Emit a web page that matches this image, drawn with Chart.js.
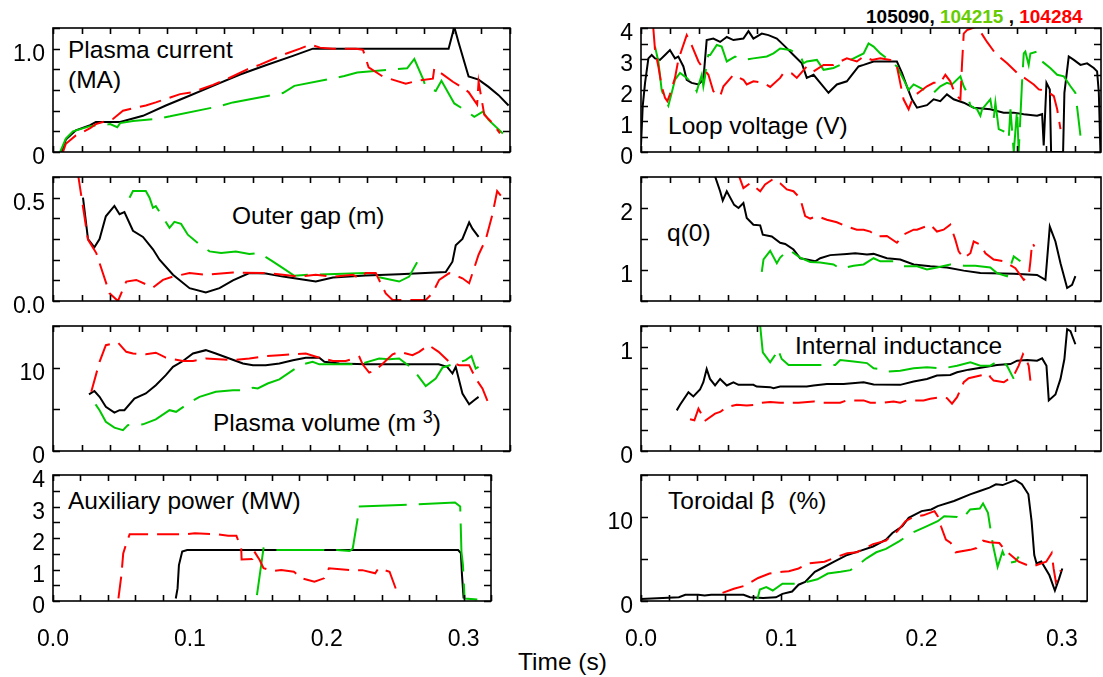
<!DOCTYPE html>
<html>
<head>
<meta charset="utf-8">
<script src="https://cdn.jsdelivr.net/npm/chart.js@4"></script>
<style>
  body { margin: 0; width: 1103px; height: 677px; overflow: hidden; background: #fff; position: relative;
         font-family: "Liberation Sans", Arial, sans-serif; }
  .lbl { position: absolute; font-size: 24.5px; line-height: 24.5px; color: #000; white-space: nowrap; }
  .legend { position: absolute; left: 866px; top: 7px; font-size: 19px; line-height: 19px; font-weight: bold; white-space: nowrap; }
</style>
</head>
<body>
<div class="legend"><span style="color:#000">105090,</span> <span style="color:#66cc00">104215</span> , <span style="color:#ff0000">104284</span></div>
<div class="lbl" style="left:68px;top:38px">Plasma current</div>
<div class="lbl" style="left:68px;top:68px">(MA)</div>
<div class="lbl" style="left:232px;top:204px">Outer gap (m)</div>
<div class="lbl" style="left:213px;top:411px">Plasma volume (m <span style="position:relative;top:-8px;font-size:18px">3</span>)</div>
<div class="lbl" style="left:68px;top:489px">Auxiliary power (MW)</div>
<div class="lbl" style="left:668px;top:114px">Loop voltage (V)</div>
<div class="lbl" style="left:667px;top:221px">q(0)</div>
<div class="lbl" style="left:795px;top:334px">Internal inductance</div>
<div class="lbl" style="left:668px;top:489px">Toroidal β&nbsp; (%)</div>
<div class="lbl" style="left:518px;top:650px">Time (s)</div>

<script>
// ---- data (time in s) ----
// Plasma current (MA)
const ipBlackT = [0.006, 0.009, 0.016, 0.026, 0.030, 0.047, 0.063, 0.079, 0.093, 0.112, 0.131, 0.149, 0.168, 0.182, 0.196, 0.219, 0.242, 0.262, 0.277, 0.281, 0.284, 0.291, 0.298, 0.305, 0.312, 0.319];
const ipBlackV = [0, 0.12, 0.21, 0.26, 0.29, 0.29, 0.35, 0.45, 0.53, 0.64, 0.75, 0.84, 0.93, 1.0, 1.0, 1.0, 1.0, 1.0, 1.0, 1.21, 1.06, 0.73, 0.70, 0.63, 0.55, 0.45];
const ipGreenT = [0.005, 0.009, 0.014, 0.026, 0.040, 0.045, 0.047, 0.056, 0.072, 0.082, 0.117, 0.126, 0.161, 0.169, 0.204, 0.213, 0.248, 0.253, 0.259, 0.261, 0.268, 0.272, 0.281, 0.289, 0.295, 0.301, 0.305, 0.315];
const ipGreenV = [0, 0.13, 0.20, 0.25, 0.27, 0.24, 0.28, 0.30, 0.32, 0.345, 0.445, 0.48, 0.57, 0.64, 0.735, 0.77, 0.81, 0.90, 0.71, 0.63, 0.59, 0.69, 0.47, 0.40, 0.34, 0.39, 0.31, 0.18];
const ipRedT = [0.007, 0.009, 0.016, 0.026, 0.030, 0.042, 0.049, 0.065, 0.072, 0.089, 0.098, 0.112, 0.121, 0.136, 0.145, 0.161, 0.173, 0.180, 0.187, 0.196, 0.212, 0.217, 0.221, 0.231, 0.247, 0.255, 0.266, 0.267, 0.270, 0.280, 0.286, 0.291, 0.297, 0.298, 0.302, 0.307, 0.313];
const ipRedV = [0, 0.08, 0.16, 0.23, 0.27, 0.32, 0.40, 0.45, 0.48, 0.56, 0.58, 0.65, 0.70, 0.80, 0.845, 0.94, 1.0, 1.04, 1.01, 1.0, 1.0, 0.99, 0.82, 0.73, 0.66, 0.69, 0.71, 0.81, 0.78, 0.68, 0.63, 0.58, 0.46, 0.68, 0.36, 0.29, 0.18];

// Outer gap (m)
const gapBlackT = [0.021, 0.0245, 0.029, 0.0326, 0.037, 0.043, 0.0466, 0.050, 0.056, 0.063, 0.070, 0.0746, 0.084, 0.0956, 0.107, 0.1166, 0.126, 0.1375, 0.149, 0.161, 0.1725, 0.184, 0.196, 0.219, 0.2424, 0.275, 0.2797, 0.282, 0.2867, 0.2914, 0.2937, 0.298];
const gapBlackV = [0.50, 0.30, 0.26, 0.30, 0.41, 0.46, 0.42, 0.43, 0.34, 0.31, 0.25, 0.20, 0.127, 0.062, 0.041, 0.062, 0.10, 0.135, 0.133, 0.118, 0.106, 0.094, 0.114, 0.123, 0.13, 0.14, 0.19, 0.27, 0.30, 0.38, 0.35, 0.31];
const gapGreenT = [0.0536, 0.056, 0.065, 0.0676, 0.070, 0.072, 0.0816, 0.085, 0.0897, 0.0944, 0.1026, 0.1096, 0.1177, 0.128, 0.1375, 0.1445, 0.1538, 0.161, 0.169, 0.1795, 0.219, 0.226, 0.2424, 0.2494, 0.2564];
const gapGreenV = [0.5, 0.532, 0.532, 0.5, 0.451, 0.459, 0.354, 0.383, 0.373, 0.321, 0.273, 0.24, 0.232, 0.24, 0.227, 0.232, 0.192, 0.159, 0.122, 0.127, 0.135, 0.118, 0.094, 0.118, 0.205];
const gapRedT = [0.0175, 0.0245, 0.0303, 0.0396, 0.0455, 0.0513, 0.0583, 0.070, 0.077, 0.084, 0.0956, 0.107, 0.126, 0.149, 0.161, 0.1725, 0.184, 0.196, 0.21, 0.2145, 0.219, 0.226, 0.233, 0.2378, 0.261, 0.2657, 0.2704, 0.2774, 0.2867, 0.2914, 0.298, 0.303, 0.3077, 0.311, 0.3147];
const gapRedV = [0.614, 0.297, 0.232, 0.037, 0, 0.094, 0.102, 0.065, 0.102, 0.118, 0.135, 0.127, 0.138, 0.135, 0.127, 0.118, 0.127, 0.118, 0.127, 0.11, 0.135, 0.135, 0.037, 0.005, 0.005, 0.037, 0.102, 0.135, 0.11, 0.086, 0.224, 0.297, 0.419, 0.532, 0.5];

// Plasma volume (m^3)
const volBlackT = [0.0252, 0.029, 0.0326, 0.037, 0.043, 0.0466, 0.050, 0.057, 0.065, 0.072, 0.079, 0.084, 0.091, 0.098, 0.107, 0.114, 0.1235, 0.133, 0.140, 0.149, 0.1585, 0.168, 0.177, 0.1865, 0.19, 0.2005, 0.219, 0.2424, 0.270, 0.276, 0.2797, 0.282, 0.2867, 0.2914, 0.2949, 0.298];
const volBlackV = [6.8, 7.2, 6.5, 5.3, 4.6, 4.9, 4.9, 6.3, 6.9, 7.9, 9.1, 10.1, 10.8, 11.7, 12.1, 11.7, 11.1, 10.5, 10.3, 10.3, 10.5, 10.9, 11.2, 11.2, 10.7, 10.5, 10.4, 10.4, 10.4, 10.1, 9.3, 10.1, 6.9, 5.6, 6.1, 6.5];
const volGreenT = [0.0298, 0.0326, 0.037, 0.043, 0.049, 0.0524, 0.063, 0.072, 0.0816, 0.0862, 0.0956, 0.1026, 0.114, 0.126, 0.135, 0.140, 0.1434, 0.1503, 0.1585, 0.168, 0.1748, 0.1818, 0.1865, 0.196, 0.2145, 0.2284, 0.2354, 0.2424, 0.2517, 0.261, 0.268, 0.2727, 0.2797, 0.289, 0.293, 0.296, 0.298];
const volGreenV = [5.6, 4.9, 3.5, 2.8, 2.5, 3.1, 3.2, 3.8, 4.9, 4.7, 5.8, 6.5, 7.1, 7.3, 7.3, 7.6, 7.5, 8.1, 8.6, 9.7, 10.4, 10.7, 10.4, 10.4, 10.4, 11.1, 11.0, 11.1, 9.9, 7.8, 8.7, 10.0, 10.4, 10.9, 11.4, 9.9, 10.1];
const volRedT = [0.0268, 0.0326, 0.037, 0.0455, 0.0513, 0.056, 0.065, 0.072, 0.079, 0.091, 0.098, 0.107, 0.126, 0.1375, 0.149, 0.1585, 0.168, 0.177, 0.1865, 0.196, 0.205, 0.2145, 0.2168, 0.2214, 0.226, 0.231, 0.2378, 0.2424, 0.2517, 0.2564, 0.263, 0.270, 0.2774, 0.2844, 0.2914, 0.296, 0.3007, 0.304, 0.307];
const volRedV = [7.1, 10.7, 12.7, 13.0, 11.9, 11.7, 11.6, 11.8, 11.2, 10.8, 10.8, 11.1, 10.9, 11.1, 11.4, 11.5, 11.6, 11.7, 11.2, 10.8, 10.8, 11.3, 10.4, 9.4, 9.7, 10.5, 11.6, 11.9, 11.5, 11.9, 12.7, 11.9, 10.7, 10.3, 10.3, 8.7, 7.5, 6.1, 5.1];

// Auxiliary power (MW)
const auxBlackT = [0.0897, 0.091, 0.092, 0.0944, 0.098, 0.15, 0.2, 0.25, 0.296, 0.298, 0.2988, 0.300];
const auxBlackV = [0.08, 0.4, 1.14, 1.57, 1.62, 1.62, 1.62, 1.62, 1.62, 1.52, 0.83, 0.08];
const auxGreenT = [0.149, 0.1538, 0.163, 0.198, 0.2005, 0.2075, 0.2168, 0.219, 0.2226, 0.2233, 0.254, 0.2646, 0.2937, 0.2975, 0.2984, 0.2995, 0.3007, 0.310];
const auxGreenV = [0.19, 1.67, 1.62, 1.62, 1.59, 1.62, 1.59, 1.67, 2.62, 3.0, 3.05, 3.07, 3.13, 3.0, 1.57, 1.14, 0.08, 0.05];
const auxRedT = [0.0478, 0.050, 0.0513, 0.0536, 0.056, 0.072, 0.0804, 0.0967, 0.1037, 0.120, 0.128, 0.134, 0.1375, 0.1378, 0.1457, 0.1468, 0.151, 0.1538, 0.161, 0.1667, 0.176, 0.1818, 0.191, 0.198, 0.2016, 0.218, 0.226, 0.2354, 0.2378, 0.2459, 0.2517];
const auxRedV = [0.08, 0.83, 1.51, 1.83, 2.12, 2.12, 2.12, 2.12, 2.15, 2.12, 2.07, 2.07, 1.67, 1.32, 1.33, 1.59, 1.30, 1.04, 0.95, 0.98, 0.93, 0.72, 0.61, 0.72, 1.04, 0.98, 0.98, 0.88, 1.04, 0.93, 0.24];

// Loop voltage (V)
const lvBlackT = [0, 0.0012, 0.0028, 0.0051, 0.0074, 0.0097, 0.0131, 0.0166, 0.020, 0.0235, 0.0258, 0.0293, 0.0316, 0.035, 0.0397, 0.0431, 0.0454, 0.050, 0.0547, 0.0593, 0.0639, 0.0708, 0.0743, 0.0777, 0.0835, 0.0881, 0.0939, 0.0997, 0.1054, 0.1112, 0.1146, 0.1193, 0.1239, 0.1296, 0.1354, 0.1423, 0.1458, 0.1504, 0.1539, 0.1608, 0.170, 0.1769, 0.1804, 0.1838, 0.1873, 0.1908, 0.1977, 0.2023, 0.2069, 0.2115, 0.2161, 0.2231, 0.230, 0.2415, 0.2507, 0.2577, 0.2646, 0.2738, 0.2773, 0.2784, 0.2803, 0.2826, 0.2835, 0.2918, 0.2927, 0.2957, 0.2992, 0.3038, 0.3084, 0.313, 0.3153, 0.3165, 0.3176];
const lvBlackV = [0.21, 1.49, 2.23, 3.02, 3.13, 3.02, 2.97, 3.13, 3.29, 3.02, 3.08, 2.76, 2.33, 2.23, 2.18, 2.33, 3.61, 3.66, 3.55, 3.71, 3.61, 3.66, 3.9, 3.66, 3.82, 3.77, 3.66, 3.4, 3.13, 2.86, 2.39, 2.49, 2.23, 1.91, 2.18, 2.28, 2.49, 2.76, 2.81, 2.92, 2.92, 2.92, 2.55, 2.12, 1.7, 1.43, 1.51, 1.7, 1.64, 1.86, 1.7, 1.59, 1.43, 1.38, 1.27, 1.27, 1.22, 1.17, 1.22, 0.21, 2.23, 2.02, 0, 0, 1.91, 3.08, 2.97, 2.81, 2.86, 2.71, 2.6, 1.91, 0];
const lvGreenT = [0.0097, 0.012, 0.0143, 0.0166, 0.0189, 0.0212, 0.0235, 0.027, 0.0316, 0.0362, 0.0385, 0.042, 0.0431, 0.0443, 0.0454, 0.0466, 0.0478, 0.0524, 0.0558, 0.0593, 0.065, 0.0708, 0.0777, 0.087, 0.0916, 0.0962, 0.1031, 0.110, 0.1123, 0.1146, 0.1216, 0.1262, 0.1331, 0.14, 0.147, 0.1539, 0.1573, 0.1608, 0.1654, 0.170, 0.1769, 0.1792, 0.1827, 0.185, 0.1885, 0.1931, 0.2012, 0.2069, 0.2115, 0.215, 0.2208, 0.2231, 0.2254, 0.2277, 0.2323, 0.2346, 0.2358, 0.2415, 0.2438, 0.245, 0.2473, 0.2519, 0.2542, 0.2554, 0.2577, 0.26, 0.2611, 0.2634, 0.2646, 0.2657, 0.268, 0.2692, 0.2738, 0.2773, 0.2831, 0.2877, 0.2923, 0.2969, 0.3003, 0.3038];
const lvGreenV = [3.4, 2.92, 2.0, 1.7, 1.49, 1.9, 2.33, 2.55, 2.39, 2.18, 1.96, 2.49, 2.12, 2.44, 2.92, 3.13, 3.13, 3.45, 3.4, 2.92, 3.08, 2.97, 3.02, 3.08, 3.18, 3.34, 3.29, 3.13, 2.86, 2.92, 2.97, 2.65, 2.71, 2.86, 3.02, 3.18, 3.5, 3.4, 3.18, 3.02, 2.76, 2.55, 2.23, 2.0, 2.18, 2.07, 1.86, 2.12, 2.23, 2.18, 2.44, 2.12, 1.91, 1.49, 1.38, 1.17, 1.38, 1.7, 1.06, 1.59, 0.74, 0.64, 0.42, 1.38, 0, 1.38, 0, 2.23, 3.18, 3.24, 2.81, 3.18, 3.24, 2.92, 2.7, 2.49, 2.44, 2.12, 1.91, 0.53];
const lvRedT = [0.0085, 0.0097, 0.012, 0.0143, 0.0166, 0.0182, 0.020, 0.0235, 0.0258, 0.0281, 0.0316, 0.035, 0.0397, 0.042, 0.0466, 0.05, 0.0547, 0.057, 0.0639, 0.0708, 0.0731, 0.0777, 0.0847, 0.0893, 0.0962, 0.0985, 0.1043, 0.1077, 0.1146, 0.1193, 0.1262, 0.1331, 0.1377, 0.1423, 0.1492, 0.1539, 0.1596, 0.1654, 0.1723, 0.1769, 0.1792, 0.1815, 0.185, 0.1885, 0.1931, 0.1977, 0.2023, 0.2069, 0.2104, 0.2138, 0.2173, 0.2208, 0.2219, 0.2231, 0.2254, 0.2323, 0.2392, 0.245, 0.2531, 0.26, 0.2669, 0.2715, 0.275, 0.2807, 0.2854, 0.2877, 0.29];
const lvRedV = [4.0, 3.29, 2.76, 2.12, 1.75, 1.64, 1.86, 2.39, 2.97, 3.29, 3.77, 3.45, 2.92, 2.76, 2.49, 1.96, 1.8, 2.12, 2.49, 2.33, 2.18, 2.28, 2.23, 2.1, 2.39, 2.55, 2.53, 2.39, 2.76, 2.6, 2.81, 2.81, 2.92, 3.02, 2.92, 3.08, 2.97, 3.02, 2.97, 2.76, 2.23, 1.7, 1.38, 1.8, 1.96, 2.12, 2.23, 2.23, 2.49, 2.28, 1.86, 1.7, 2.81, 3.82, 3.93, 4.05, 3.55, 3.18, 2.86, 2.55, 2.33, 2.18, 2.02, 1.96, 1.8, 1.38, 0.74];

// q(0)
const q0BlackT = [0.0512, 0.0547, 0.0565, 0.0593, 0.0644, 0.0674, 0.0708, 0.0731, 0.0777, 0.0824, 0.0842, 0.0904, 0.0962, 0.0997, 0.1054, 0.110, 0.1146, 0.1204, 0.1239, 0.1308, 0.1423, 0.1481, 0.1562, 0.1608, 0.170, 0.1792, 0.1885, 0.20, 0.2115, 0.2231, 0.2346, 0.2577, 0.2738, 0.2796, 0.2826, 0.2865, 0.290, 0.2946, 0.298, 0.3003];
const q0BlackV = [2.51, 2.27, 2.12, 2.27, 2.05, 2.0, 2.08, 1.84, 1.73, 1.72, 1.57, 1.54, 1.44, 1.42, 1.33, 1.19, 1.17, 1.14, 1.19, 1.24, 1.26, 1.27, 1.25, 1.26, 1.19, 1.17, 1.09, 1.06, 1.04, 0.99, 0.95, 0.94, 0.92, 0.84, 1.70, 1.46, 1.11, 0.71, 0.76, 0.90];
const q0GreenT = [0.0835, 0.0847, 0.0893, 0.0939, 0.0962, 0.102, 0.110, 0.117, 0.1239, 0.1331, 0.1377, 0.147, 0.1539, 0.1608, 0.1654, 0.1746, 0.1815, 0.1908, 0.1977, 0.2046, 0.2138, 0.2231, 0.2311, 0.2415, 0.2461, 0.253, 0.2577, 0.2623];
const q0GreenV = [0.97, 1.17, 1.31, 1.11, 1.20, 1.33, 1.20, 1.13, 1.12, 1.09, 1.02, 1.07, 1.09, 1.19, 1.14, 1.14, 1.06, 1.06, 1.01, 1.04, 1.09, 1.07, 1.07, 1.04, 0.95, 0.90, 1.22, 1.14];
const q0RedT = [0.0674, 0.0708, 0.0754, 0.0824, 0.0858, 0.0916, 0.0962, 0.1008, 0.1054, 0.110, 0.1135, 0.117, 0.1216, 0.1285, 0.1354, 0.1423, 0.1492, 0.1539, 0.1585, 0.1631, 0.170, 0.1769, 0.1815, 0.1885, 0.1908, 0.20, 0.2046, 0.2092, 0.2138, 0.2173, 0.2196, 0.2231, 0.2277, 0.230, 0.2346, 0.2381, 0.2438, 0.2508, 0.253, 0.2588, 0.2646, 0.268, 0.2692, 0.2704, 0.272];
const q0RedV = [2.54, 2.32, 2.40, 2.27, 2.38, 2.47, 2.40, 2.30, 2.27, 2.16, 1.87, 1.83, 1.87, 1.81, 1.77, 1.70, 1.65, 1.65, 1.62, 1.54, 1.55, 1.44, 1.57, 1.65, 1.65, 1.73, 1.62, 1.65, 1.73, 1.49, 1.30, 1.19, 1.27, 1.46, 1.41, 1.27, 1.17, 1.14, 1.11, 1.03, 0.84, 0.90, 1.14, 1.44, 1.38];

// Internal inductance
const liBlackT = [0.0247, 0.027, 0.0328, 0.0362, 0.0408, 0.0431, 0.0454, 0.0477, 0.0512, 0.0547, 0.0593, 0.0639, 0.0674, 0.0777, 0.080, 0.0893, 0.0916, 0.0962, 0.1146, 0.1193, 0.1285, 0.140, 0.1539, 0.1608, 0.1792, 0.1885, 0.1977, 0.2046, 0.2138, 0.2185, 0.2265, 0.2369, 0.2461, 0.2554, 0.260, 0.2669, 0.2738, 0.2773, 0.2803, 0.2819, 0.2865, 0.290, 0.2927, 0.2946, 0.2969, 0.3003];
const liBlackV = [0.39, 0.444, 0.565, 0.524, 0.59, 0.66, 0.787, 0.692, 0.629, 0.692, 0.629, 0.66, 0.635, 0.635, 0.619, 0.613, 0.603, 0.619, 0.619, 0.629, 0.644, 0.644, 0.66, 0.638, 0.635, 0.667, 0.692, 0.724, 0.73, 0.756, 0.781, 0.803, 0.825, 0.835, 0.867, 0.873, 0.867, 0.889, 0.819, 0.486, 0.543, 0.692, 0.883, 1.17, 1.15, 1.025];
const liGreenT = [0.0824, 0.0842, 0.0893, 0.0927, 0.0944, 0.0973, 0.102, 0.1239, 0.1343, 0.1377, 0.147, 0.1562, 0.1608, 0.1654, 0.170, 0.1792, 0.1885, 0.1977, 0.2092, 0.2185, 0.2277, 0.2346, 0.2415, 0.2461, 0.2496, 0.253, 0.2577];
const liGreenV = [1.2, 0.946, 0.851, 0.921, 0.984, 0.883, 0.825, 0.825, 0.825, 0.873, 0.86, 0.844, 0.794, 0.787, 0.762, 0.771, 0.794, 0.803, 0.794, 0.819, 0.851, 0.819, 0.819, 0.857, 0.867, 0.819, 0.692];
const liRedT = [0.0339, 0.0369, 0.0397, 0.042, 0.0438, 0.0512, 0.0547, 0.0593, 0.0662, 0.0731, 0.0789, 0.0835, 0.0893, 0.0962, 0.1089, 0.1193, 0.1262, 0.1377, 0.1423, 0.1539, 0.1585, 0.1666, 0.1746, 0.1792, 0.1839, 0.1885, 0.1954, 0.20, 0.2069, 0.2115, 0.215, 0.2185, 0.2231, 0.2265, 0.2346, 0.2404, 0.2415, 0.2438, 0.2508, 0.2577, 0.2611, 0.2641, 0.2657, 0.268, 0.2692];
const liRedV = [0.305, 0.295, 0.406, 0.349, 0.286, 0.359, 0.375, 0.422, 0.444, 0.438, 0.444, 0.463, 0.47, 0.463, 0.463, 0.476, 0.463, 0.463, 0.486, 0.486, 0.463, 0.463, 0.476, 0.463, 0.486, 0.486, 0.486, 0.502, 0.517, 0.508, 0.454, 0.517, 0.66, 0.698, 0.724, 0.74, 0.708, 0.676, 0.66, 0.724, 0.819, 0.93, 0.898, 0.819, 0.676];

// Toroidal beta (%)
const btBlackT = [0, 0.027, 0.0316, 0.0408, 0.0454, 0.050, 0.0731, 0.0777, 0.087, 0.0962, 0.1008, 0.1077, 0.1123, 0.117, 0.1239, 0.1285, 0.1377, 0.147, 0.1562, 0.1654, 0.1746, 0.1792, 0.1862, 0.1908, 0.20, 0.2069, 0.2115, 0.2231, 0.2346, 0.2415, 0.2484, 0.253, 0.2577, 0.2669, 0.2715, 0.2761, 0.2784, 0.2803, 0.2819, 0.2853, 0.2911, 0.295, 0.298, 0.3003];
const btBlackV = [0.24, 0.44, 0.73, 0.73, 0.65, 0.73, 0.73, 0.44, 0.36, 0.44, 0.85, 1.13, 1.94, 2.26, 3.47, 3.87, 4.68, 5.48, 5.97, 6.49, 7.3, 8.1, 8.9, 9.9, 10.7, 10.9, 11.3, 11.9, 12.7, 13.1, 13.5, 13.9, 13.8, 14.4, 13.9, 12.7, 9.5, 5.48, 4.48, 4.7, 3.06, 1.25, 2.66, 3.87];
const btGreenT = [0.083, 0.0847, 0.0893, 0.0939, 0.1008, 0.110, 0.1181, 0.1257, 0.1331, 0.1423, 0.1493, 0.1562, 0.1608, 0.1677, 0.1746, 0.1839, 0.1931, 0.2023, 0.2115, 0.2161, 0.2254, 0.2288, 0.2346, 0.2415, 0.2438, 0.2473, 0.2508, 0.2542, 0.2577, 0.2611, 0.2669, 0.2692];
const btGreenV = [0.24, 1.37, 1.65, 1.25, 2.06, 2.06, 2.26, 2.58, 3.27, 3.47, 3.67, 4.48, 5.08, 5.8, 6.2, 7.1, 8.1, 8.8, 9.5, 10.1, 10.0, 9.7, 10.9, 11.0, 11.6, 10.5, 6.7, 4.07, 5.9, 4.48, 4.7, 5.28];
const btRedT = [0.0581, 0.0662, 0.0731, 0.0766, 0.0835, 0.0916, 0.1008, 0.1054, 0.1123, 0.1193, 0.1308, 0.14, 0.147, 0.1539, 0.1654, 0.1746, 0.1792, 0.1827, 0.1885, 0.1954, 0.2012, 0.2092, 0.2115, 0.2138, 0.2173, 0.2208, 0.2242, 0.2346, 0.2392, 0.2438, 0.2484, 0.2554, 0.26, 0.2669, 0.2692, 0.2784, 0.2888, 0.2927, 0.2941, 0.2957, 0.2992];
const btRedV = [0.97, 1.45, 1.77, 2.06, 2.74, 3.27, 3.47, 3.55, 3.87, 4.48, 4.68, 5.28, 5.69, 5.81, 6.77, 7.18, 7.9, 8.3, 9.5, 10.1, 10.2, 10.7, 10.1, 8.9, 7.3, 6.9, 5.8, 6.09, 6.3, 7.18, 7.0, 6.9, 5.97, 5.0, 4.68, 4.07, 4.68, 5.69, 3.87, 2.26, 3.67];

// ---- layout ----
const FONT = '"Liberation Sans", Arial, sans-serif';
const GREEN = '#00c800';
const RED = '#ff0000';
const COLS = [
  { left: 0, plotLeft: 53, plotRight: 510, width: 516, xMax: 0.32 },
  { left: 590, plotLeft: 641, plotRight: 1101, width: 513, xMax: 0.318 }
];
const ROWS = [[28, 152], [177, 301], [326, 451], [475, 601]];
const PAD = 24;          // must exceed half a tick label + tick padding
const BOTTOM_AXIS = 62;

// box + inward ticks on all four sides
const frameTicks = {
  id: 'frameTicks',
  afterDatasetsDraw(chart) {
    const { ctx, chartArea: a, scales: { x, y } } = chart;
    ctx.save();
    ctx.strokeStyle = '#000';
    ctx.lineWidth = 1.6;
    ctx.strokeRect(a.left, a.top, a.right - a.left, a.bottom - a.top);
    ctx.beginPath();
    x.ticks.forEach(t => {
      const px = Math.round(x.getPixelForValue(t.value)) + 0.5;
      ctx.moveTo(px, a.bottom); ctx.lineTo(px, a.bottom - 6);
      ctx.moveTo(px, a.top); ctx.lineTo(px, a.top + 6);
    });
    y.ticks.forEach(t => {
      const py = Math.round(y.getPixelForValue(t.value)) + 0.5;
      ctx.moveTo(a.left, py); ctx.lineTo(a.left + 7, py);
      ctx.moveTo(a.right, py); ctx.lineTo(a.right - 7, py);
    });
    ctx.stroke();
    ctx.restore();
  }
};

function pts(t, v) {
  return t.map((x, i) => ({ x, y: v[i] }));
}

function makePanel(col, row, yMin, yMax, yStep, yLabels, black, green, red) {
  const c = COLS[col];
  const [top, bottom] = ROWS[row];
  const isBottom = row === 3;
  const xh = isBottom ? BOTTOM_AXIS : PAD;
  const w = c.width;
  const h = PAD + (bottom - top) + xh;
  const canvas = document.createElement('canvas');
  canvas.width = w;
  canvas.height = h;
  canvas.style.cssText = `position:absolute;left:${c.left}px;top:${top - PAD}px;width:${w}px;height:${h}px`;
  document.body.appendChild(canvas);

  new Chart(canvas, {
    type: 'line',
    data: {
      datasets: [
        { data: pts(red[0], red[1]), borderColor: RED, borderWidth: 2, borderDash: [22, 9] },
        { data: pts(green[0], green[1]), borderColor: GREEN, borderWidth: 2, borderDash: [48, 12] },
        { data: pts(black[0], black[1]), borderColor: '#000', borderWidth: 2 }
      ]
    },
    options: {
      responsive: false,
      animation: false,
      devicePixelRatio: 1,
      layout: { padding: { top: PAD, right: w - (c.plotRight - c.left), left: 0, bottom: 0 } },
      plugins: { legend: { display: false }, tooltip: { enabled: false } },
      elements: { point: { radius: 0 }, line: { tension: 0, fill: false } },
      scales: {
        x: {
          type: 'linear', min: 0, max: c.xMax,
          grid: { display: false, drawTicks: false },
          border: { display: false },
          ticks: {
            display: isBottom, stepSize: 0.02, autoSkip: false, maxRotation: 0, includeBounds: false,
            padding: 25, color: '#000', font: { family: FONT, size: 23 },
            callback: v => Math.abs(v * 10 - Math.round(v * 10)) < 1e-6 ? v.toFixed(1) : ''
          },
          afterFit: s => { s.height = xh; }
        },
        y: {
          type: 'linear', min: yMin, max: yMax,
          grid: { display: false, drawTicks: false },
          border: { display: false },
          ticks: {
            stepSize: yStep, autoSkip: false, includeBounds: false,
            padding: 8, labelOffset: 6, color: '#000', font: { family: FONT, size: 23 },
            callback: v => yLabels[String(+v.toFixed(4))] ?? ''
          },
          afterFit: s => { s.width = c.plotLeft - c.left; }
        }
      }
    },
    plugins: [frameTicks]
  });
}

makePanel(0, 0, 0, 1.2, 0.2, { '0': '0', '1': '1.0' },
  [ipBlackT, ipBlackV], [ipGreenT, ipGreenV], [ipRedT, ipRedV]);
makePanel(0, 1, 0, 0.6, 0.1, { '0': '0.0', '0.5': '0.5' },
  [gapBlackT, gapBlackV], [gapGreenT, gapGreenV], [gapRedT, gapRedV]);
makePanel(0, 2, 0, 15, 5, { '0': '0', '10': '10' },
  [volBlackT, volBlackV], [volGreenT, volGreenV], [volRedT, volRedV]);
makePanel(0, 3, 0, 4, 0.5, { '0': '0', '1': '1', '2': '2', '3': '3', '4': '4' },
  [auxBlackT, auxBlackV], [auxGreenT, auxGreenV], [auxRedT, auxRedV]);
makePanel(1, 0, 0, 4, 0.5, { '0': '0', '1': '1', '2': '2', '3': '3', '4': '4' },
  [lvBlackT, lvBlackV], [lvGreenT, lvGreenV], [lvRedT, lvRedV]);
makePanel(1, 1, 0.5, 2.5, 0.5, { '1': '1', '2': '2' },
  [q0BlackT, q0BlackV], [q0GreenT, q0GreenV], [q0RedT, q0RedV]);
makePanel(1, 2, 0, 1.2, 0.2, { '0': '0', '1': '1' },
  [liBlackT, liBlackV], [liGreenT, liGreenV], [liRedT, liRedV]);
makePanel(1, 3, 0, 15, 5, { '0': '0', '10': '10' },
  [btBlackT, btBlackV], [btGreenT, btGreenV], [btRedT, btRedV]);
</script>
</body>
</html>
